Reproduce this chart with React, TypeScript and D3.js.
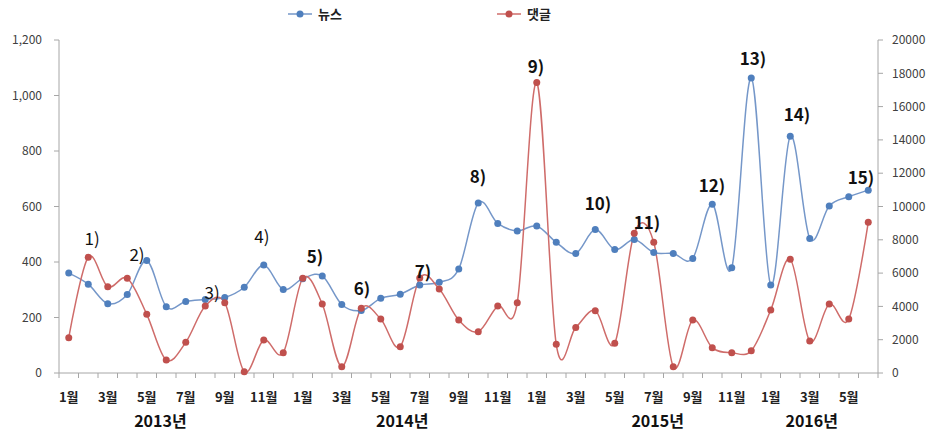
import React from 'react';
import * as d3 from 'd3';

// 2013.01 ~ 2016.06, monthly
const months = [
  '2013-01', '2013-02', '2013-03', '2013-04', '2013-05', '2013-06', '2013-07', '2013-08', '2013-09', '2013-10', '2013-11', '2013-12',
  '2014-01', '2014-02', '2014-03', '2014-04', '2014-05', '2014-06', '2014-07', '2014-08', '2014-09', '2014-10', '2014-11', '2014-12',
  '2015-01', '2015-02', '2015-03', '2015-04', '2015-05', '2015-06', '2015-07', '2015-08', '2015-09', '2015-10', '2015-11', '2015-12',
  '2016-01', '2016-02', '2016-03', '2016-04', '2016-05', '2016-06',
];

// 뉴스 (left axis)
const newsValues = [
  360, 320, 250, 283, 405, 239, 258, 265, 272, 309, 389, 301,
  340, 350, 247, 225, 269, 284, 317, 327, 375, 613, 539, 512,
  530, 471, 431, 517, 445, 481, 434, 431, 413, 608, 379, 1063,
  317, 853, 485, 602, 635, 659,
];

// 댓글 (right axis)
const commentValues = [
  2120, 6950, 5185, 5685, 3525, 780, 1840, 4020, 4225, 80, 1980, 1220,
  5685, 4140, 380, 3885, 3240, 1580, 5700, 5045, 3180, 2480, 4020, 4225,
  17440, 1720, 2740, 3745, 1780, 8390, 7850, 380, 3180, 1520, 1220, 1340,
  3780, 6830, 1920, 4140, 3240, 9050,
];

const leftTicks = [0, 200, 400, 600, 800, 1000, 1200];
const rightTicks = [0, 2000, 4000, 6000, 8000, 10000, 12000, 14000, 16000, 18000, 20000];

// year labels: position given as month index
const yearLabels = [
  { text: '2013년', at: 4.7 },
  { text: '2014년', at: 17.1 },
  { text: '2015년', at: 30.2 },
  { text: '2016년', at: 38.1 },
];

// numbered notes: month index and height in left-axis units
const notes = [
  { text: '1)', at: 1.2, v: 483, bold: false },
  { text: '2)', at: 3.5, v: 425, bold: false },
  { text: '3)', at: 7.35, v: 288, bold: false },
  { text: '4)', at: 9.9, v: 490, bold: false },
  { text: '5)', at: 12.63, v: 418, bold: true },
  { text: '6)', at: 15.04, v: 303, bold: true },
  { text: '7)', at: 18.17, v: 364, bold: true },
  { text: '8)', at: 20.99, v: 706, bold: true },
  { text: '9)', at: 23.96, v: 1103, bold: true },
  { text: '10)', at: 27.14, v: 609, bold: true },
  { text: '11)', at: 29.65, v: 541, bold: true },
  { text: '12)', at: 32.99, v: 674, bold: true },
  { text: '13)', at: 35.09, v: 1132, bold: true },
  { text: '14)', at: 37.35, v: 930, bold: true },
  { text: '15)', at: 40.63, v: 703, bold: true },
];

const W = 931;
const H = 434;
const left = 59;
const right = 878;
const top = 40;
const bottom = 373;

const FONT = '"Noto Sans CJK KR", "Noto Sans", sans-serif';
const BLUE_LINE = '#7597c9';
const BLUE_DOT = '#4f7fbd';
const RED_LINE = '#cf6c6a';
const RED_DOT = '#c0504d';
const AXIS = '#a6a6a6';

const App: React.FC = () => {
  const x = d3.scaleLinear().domain([-0.5, months.length - 0.5]).range([left, right]);
  const yL = d3.scaleLinear().domain([0, 1200]).range([bottom, top]);
  const yR = d3.scaleLinear().domain([0, 20000]).range([bottom, top]);

  const newsLine = d3.line<number>()
    .x((_, i) => x(i))
    .y(d => yL(d))
    .curve(d3.curveCardinal.tension(0));

  const commentLine = d3.line<number>()
    .x((_, i) => x(i))
    .y(d => yR(d))
    .curve(d3.curveCardinal.tension(0));

  const boundaries = d3.range(months.length + 1).map(i => x(i - 0.5));

  return (
    <svg width={W} height={H} style={{ position: 'absolute', left: 0, top: 0, background: '#fff' }} fontFamily={FONT}>
      <defs>
        <clipPath id="plotClip">
          <rect x={left} y={0} width={right - left} height={bottom - 0} />
        </clipPath>
      </defs>

      {/* legend */}
      <g transform="translate(288,14)">
        <line x1={0} x2={24} y1={0} y2={0} stroke={BLUE_LINE} strokeWidth={1.5} />
        <circle cx={12} cy={0} r={3.5} fill={BLUE_DOT} />
        <text x={30} y={0} dy="0.35em" fontSize={13} fontWeight="bold" fill="#222">뉴스</text>
      </g>
      <g transform="translate(497,14)">
        <line x1={0} x2={24} y1={0} y2={0} stroke={RED_LINE} strokeWidth={1.5} />
        <circle cx={12} cy={0} r={3.5} fill={RED_DOT} />
        <text x={30} y={0} dy="0.35em" fontSize={13} fontWeight="bold" fill="#222">댓글</text>
      </g>

      {/* left axis */}
      <line x1={left} x2={left} y1={top} y2={bottom} stroke={AXIS} />
      {leftTicks.map(t => (
        <g key={'l' + t}>
          <line x1={left - 5} x2={left} y1={yL(t)} y2={yL(t)} stroke={AXIS} />
          <text x={42} y={yL(t)} dy="0.35em" textAnchor="end" fontSize={12} fill="#404040">
            {d3.format(',')(t)}
          </text>
        </g>
      ))}

      {/* right axis */}
      <line x1={right} x2={right} y1={top} y2={bottom} stroke={AXIS} />
      {rightTicks.map(t => (
        <g key={'r' + t}>
          <line x1={right} x2={right + 5} y1={yR(t)} y2={yR(t)} stroke={AXIS} />
          <text x={892} y={yR(t)} dy="0.35em" fontSize={12} fill="#404040">{t}</text>
        </g>
      ))}

      {/* category axis */}
      <line x1={left} x2={right} y1={bottom} y2={bottom} stroke={AXIS} />
      {boundaries.map((bx, i) => (
        <line key={'b' + i} x1={bx} x2={bx} y1={bottom} y2={bottom + 5} stroke={AXIS} />
      ))}
      {months.map((m, i) => (i % 2 === 0 ? (
        <text key={'m' + m} x={x(i)} y={402} textAnchor="middle" fontSize={13} fontWeight="bold" fill="#222">
          {+m.slice(5) + '월'}
        </text>
      ) : null))}
      {yearLabels.map(yl => (
        <text key={yl.text} x={x(yl.at)} y={427} textAnchor="middle" fontSize={16} fontWeight="bold" fill="#111">
          {yl.text}
        </text>
      ))}

      {/* series */}
      <g clipPath="url(#plotClip)">
        <path d={newsLine(newsValues) || ''} fill="none" stroke={BLUE_LINE} strokeWidth={1.5} />
        <path d={commentLine(commentValues) || ''} fill="none" stroke={RED_LINE} strokeWidth={1.5} />
      </g>
      {newsValues.map((v, i) => (
        <circle key={'n' + i} cx={x(i)} cy={yL(v)} r={3.5} fill={BLUE_DOT} />
      ))}
      {commentValues.map((v, i) => (
        <circle key={'c' + i} cx={x(i)} cy={yR(v)} r={3.5} fill={RED_DOT} />
      ))}

      {/* notes */}
      {notes.map(n => (
        <text key={n.text} x={x(n.at)} y={yL(n.v)} dy="0.35em" textAnchor="middle"
          fontSize={17} fontWeight={n.bold ? 'bold' : 'normal'} fill="#111">
          {n.text}
        </text>
      ))}
    </svg>
  );
};

export default App;
